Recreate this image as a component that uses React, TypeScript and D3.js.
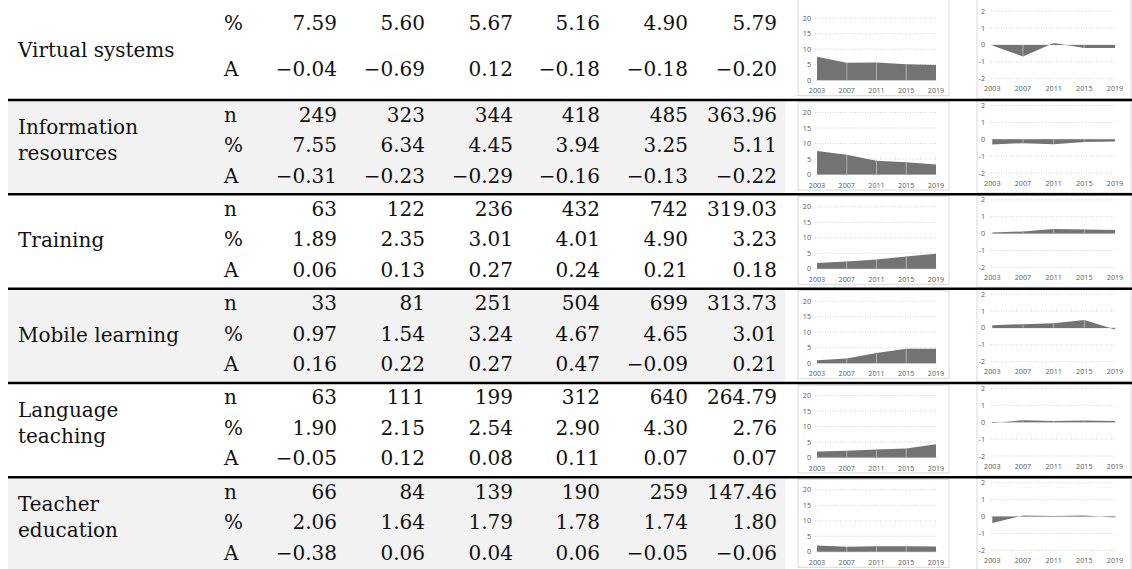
import React from "react";
import * as d3 from "d3";

const years = [2003, 2007, 2011, 2015, 2019];
const categories: string[][] = [
  ["Virtual systems"],
  ["Information", "resources"],
  ["Training"],
  ["Mobile learning"],
  ["Language", "teaching"],
  ["Teacher", "education"],
];
const nValues: (number[] | null)[] = [
  null,
  [249, 323, 344, 418, 485],
  [63, 122, 236, 432, 742],
  [33, 81, 251, 504, 699],
  [63, 111, 199, 312, 640],
  [66, 84, 139, 190, 259],
];
const nMeans: (number | null)[] = [null, 363.96, 319.03, 313.73, 264.79, 147.46];
const pctValues: number[][] = [
  [7.59, 5.6, 5.67, 5.16, 4.9],
  [7.55, 6.34, 4.45, 3.94, 3.25],
  [1.89, 2.35, 3.01, 4.01, 4.9],
  [0.97, 1.54, 3.24, 4.67, 4.65],
  [1.9, 2.15, 2.54, 2.9, 4.3],
  [2.06, 1.64, 1.79, 1.78, 1.74],
];
const pctMeans: number[] = [5.79, 5.11, 3.23, 3.01, 2.76, 1.8];
const aValues: number[][] = [
  [-0.04, -0.69, 0.12, -0.18, -0.18],
  [-0.31, -0.23, -0.29, -0.16, -0.13],
  [0.06, 0.13, 0.27, 0.24, 0.21],
  [0.16, 0.22, 0.27, 0.47, -0.09],
  [-0.05, 0.12, 0.08, 0.11, 0.07],
  [-0.38, 0.06, 0.04, 0.06, -0.05],
];
const aMeans: number[] = [-0.2, -0.22, 0.18, 0.21, 0.07, -0.06];
const rowLabels = ["n", "%", "A"];
const leftTicks = [0, 5, 10, 15, 20];
const rightTicks = [-2, -1, 0, 1, 2];

const W = 1132;
const H = 569;
const GROUP_H = 94.33;
const groupTop = (i: number) => 100 + (i - 1) * GROUP_H;
const colRight = [337, 425, 513, 600, 688, 777];
const SERIF = "'DejaVu Serif', serif";
const SANS = "'Open Sans', 'Noto Sans', sans-serif";
const AREA_FILL = "#737373";
const GRID = "#c9c9c9";
const TICK_TXT = "#595959";

const f2 = d3.format(".2f");
const fmt2 = (v: number) => f2(v).replace("-", "\u2212");
const fmtInt = d3.format("d");

function LeftSpark({ T, values, first }: { T: number; values: number[]; first: boolean }) {
  const x = d3.scaleLinear().domain([2003, 2019]).range([817, 936]);
  const y = d3.scaleLinear().domain([0, 20]).range([T + 74.5, T + 12.5]);
  const area = d3
    .area<number>()
    .x((_, i) => x(years[i]))
    .y0(y(0))
    .y1((d) => y(d));
  const top = first ? -5 : T + 2;
  return (
    <g>
      <rect x={798} y={top} width={151} height={T + 90 - top} fill="#fff" stroke="#d9d9d9" strokeWidth={1} />
      {leftTicks.map((t) => (
        <g key={t}>
          {t > 0 && (
            <line x1={815} x2={937} y1={y(t)} y2={y(t)} stroke={GRID} strokeWidth={0.8} strokeDasharray="1,1.5" />
          )}
          <text x={811} y={y(t)} dy="0.35em" textAnchor="end" fontFamily={SANS} fontSize={7.2} fill={TICK_TXT}>
            {t}
          </text>
        </g>
      ))}
      <line x1={815} x2={937} y1={y(0)} y2={y(0)} stroke="#d9d9d9" strokeWidth={0.8} />
      <path d={area(values) || ""} fill={AREA_FILL} />
      {values.map((v, i) =>
        i > 0 && i < values.length - 1 ? (
          <line key={i} x1={x(years[i])} x2={x(years[i])} y1={y(0)} y2={y(v)} stroke="#b8b8b8" strokeWidth={0.9} />
        ) : null
      )}
      {years.map((yr) => (
        <text key={yr} x={x(yr)} y={T + 85} dy="0.35em" textAnchor="middle" fontFamily={SANS} fontSize={7.2} fill={TICK_TXT}>
          {yr}
        </text>
      ))}
    </g>
  );
}

function RightSpark({ T, values, first }: { T: number; values: number[]; first: boolean }) {
  const x = d3.scaleLinear().domain([2003, 2019]).range([992.3, 1115]);
  const y = d3.scaleLinear().domain([-2, 2]).range([T + 73, T + 5.5]);
  const area = d3
    .area<number>()
    .x((_, i) => x(years[i]))
    .y0(y(0))
    .y1((d) => y(d));
  const top = first ? -5 : T + 1;
  return (
    <g>
      <rect x={977} y={top} width={154} height={T + 93 - top} fill="#fff" stroke="#d9d9d9" strokeWidth={1} />
      {rightTicks.map((t) => (
        <g key={t}>
          {t !== 0 && (
            <line x1={991} x2={1116} y1={y(t)} y2={y(t)} stroke={GRID} strokeWidth={0.8} strokeDasharray="1,1.5" />
          )}
          <text x={985} y={y(t)} dy="0.35em" textAnchor="end" fontFamily={SANS} fontSize={7.2} fill={TICK_TXT}>
            {t}
          </text>
        </g>
      ))}
      <line x1={991} x2={1116} y1={y(0)} y2={y(0)} stroke="#d9d9d9" strokeWidth={0.8} />
      <path d={area(values) || ""} fill={AREA_FILL} />
      {values.map((v, i) =>
        i > 0 && i < values.length - 1 ? (
          <line key={i} x1={x(years[i])} x2={x(years[i])} y1={y(0)} y2={y(v)} stroke="#b8b8b8" strokeWidth={0.9} />
        ) : null
      )}
      {years.map((yr) => (
        <text key={yr} x={x(yr)} y={T + 83} dy="0.35em" textAnchor="middle" fontFamily={SANS} fontSize={7.2} fill={TICK_TXT}>
          {yr}
        </text>
      ))}
    </g>
  );
}

export default function App() {
  return (
    <svg
      width={W}
      height={H}
      viewBox={`0 0 ${W} ${H}`}
      style={{ position: "absolute", left: 0, top: 0, display: "block", background: "#fff" }}
    >
      {categories.map((lines, gi) => {
        const T = groupTop(gi);
        const first = gi === 0;
        const shaded = gi % 2 === 1;
        const bottom = gi === categories.length - 1 ? H : T + GROUP_H;
        // row baselines
        const rows: { label: string; vals: string[]; base: number }[] = [];
        if (first) {
          rows.push({ label: "%", vals: [...pctValues[gi].map(fmt2), fmt2(pctMeans[gi])], base: 30 });
          rows.push({ label: "A", vals: [...aValues[gi].map(fmt2), fmt2(aMeans[gi])], base: 75.5 });
        } else {
          const n = nValues[gi] as number[];
          rows.push({ label: rowLabels[0], vals: [...n.map((v) => fmtInt(v)), fmt2(nMeans[gi] as number)], base: T + 21.5 });
          rows.push({ label: rowLabels[1], vals: [...pctValues[gi].map(fmt2), fmt2(pctMeans[gi])], base: T + 52 });
          rows.push({ label: rowLabels[2], vals: [...aValues[gi].map(fmt2), fmt2(aMeans[gi])], base: T + 82.5 });
        }
        const labelBases = first ? [57] : lines.length === 1 ? [T + 53] : [T + 34, T + 60];
        return (
          <g key={gi}>
            {shaded && <rect x={8} y={T} width={777} height={bottom - T} fill="#f2f2f2" />}
            {lines.map((ln, li) => (
              <text key={li} x={18} y={labelBases[li]} fontFamily={SERIF} fontSize={20} fill="#111">
                {ln}
              </text>
            ))}
            {rows.map((r, ri) => (
              <g key={ri}>
                <text x={224} y={r.base} fontFamily={SERIF} fontSize={20} fill="#111">
                  {r.label}
                </text>
                {r.vals.map((v, ci) => (
                  <text key={ci} x={colRight[ci]} y={r.base} textAnchor="end" fontFamily={SERIF} fontSize={20} fill="#111">
                    {v}
                  </text>
                ))}
              </g>
            ))}
            <LeftSpark T={T} values={pctValues[gi]} first={first} />
            <RightSpark T={T} values={aValues[gi]} first={first} />
          </g>
        );
      })}
      {categories.map((_, gi) =>
        gi > 0 ? (
          <line key={gi} x1={8} x2={W} y1={groupTop(gi)} y2={groupTop(gi)} stroke="#000" strokeWidth={2.5} />
        ) : null
      )}
    </svg>
  );
}
